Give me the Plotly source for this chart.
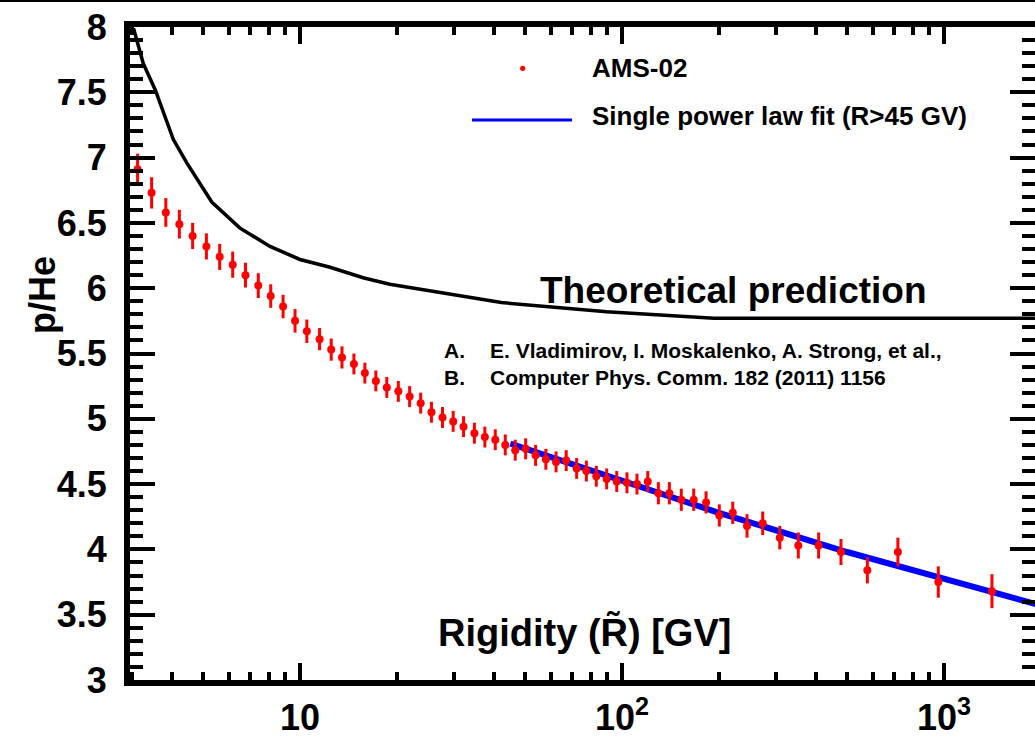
import plotly.graph_objects as go

# AMS-02 p/He ratio
rigidity = [3.13, 3.46, 3.83, 4.22, 4.64, 5.12, 5.63, 6.18, 6.77, 7.42,
            8.11, 8.86, 9.65, 10.5, 11.5, 12.5, 13.5, 14.7, 15.9, 17.2,
            18.6, 20.2, 21.9, 23.7, 25.6, 27.7, 29.9, 32.2, 34.8, 37.5,
            40.4, 43.4, 46.6, 50.2, 53.9, 58.0, 62.4, 67.1, 72.3, 77.5,
            83.2, 89.6, 96.3, 103.6, 111.3, 120.2, 129.7, 140.3, 152.8, 167.0,
            182.4, 200.5, 220.8, 244.5, 273.5, 309.0, 352.8, 408.0, 478.7, 578.0,
            719.0, 960.0, 1409.0]
p_he = [6.91, 6.73, 6.58, 6.49, 6.40, 6.32, 6.24, 6.18, 6.10, 6.02,
        5.94, 5.86, 5.75, 5.67, 5.61, 5.53, 5.47, 5.42, 5.35, 5.29,
        5.24, 5.21, 5.17, 5.12, 5.05, 5.01, 4.98, 4.94, 4.89, 4.86,
        4.84, 4.80, 4.76, 4.77, 4.72, 4.69, 4.67, 4.68, 4.62, 4.60,
        4.56, 4.54, 4.52, 4.51, 4.50, 4.52, 4.43, 4.43, 4.38, 4.38,
        4.36, 4.26, 4.28, 4.18, 4.20, 4.09, 4.03, 4.03, 3.98, 3.84,
        3.98, 3.75, 3.68]
p_he_err = [0.12, 0.12, 0.11, 0.11, 0.10, 0.10, 0.10, 0.10, 0.095, 0.095,
            0.09, 0.09, 0.09, 0.09, 0.085, 0.085, 0.085, 0.08, 0.08, 0.08,
            0.08, 0.08, 0.08, 0.08, 0.08, 0.08, 0.08, 0.08, 0.08, 0.08,
            0.08, 0.08, 0.08, 0.08, 0.08, 0.08, 0.08, 0.08, 0.08, 0.08,
            0.08, 0.08, 0.08, 0.08, 0.08, 0.08, 0.085, 0.085, 0.085, 0.085,
            0.085, 0.085, 0.085, 0.09, 0.09, 0.09, 0.10, 0.10, 0.10, 0.10,
            0.11, 0.12, 0.13]

# single power law fit (R > 45 GV)
fit_rigidity = [45, 100, 200, 500, 1000, 2000]
fit_p_he = [4.81, 4.52, 4.28, 3.98, 3.77, 3.57]

# theoretical prediction (GALPROP)
theory_rigidity = [3.04, 3.26, 3.55, 4.04, 4.45, 5.32, 6.51, 8.07, 10.0, 12.4,
                   15.7, 19.0, 42.2, 89.6, 193.0, 2000.0]
theory_p_he = [7.99, 7.72, 7.52, 7.14, 6.96, 6.66, 6.46, 6.32, 6.22, 6.16,
               6.08, 6.03, 5.89, 5.82, 5.77, 5.77]

y_ticks = [3, 3.5, 4, 4.5, 5, 5.5, 6, 6.5, 7, 7.5, 8]
x_tickvals = [10, 100, 1000]
x_ticktext = ["10", "10<sup>2</sup>", "10<sup>3</sup>"]

W, H = 1035, 738
L, R, T, B = 130, 0, 27, 58
FONT = "Liberation Sans, Arial, sans-serif"


def px(x, y):
    # pixel position -> paper coordinates (for decorations only)
    return (x - L) / (W - L - R), (H - B - y) / (H - T - B)


fig = go.Figure()

fig.add_trace(go.Scatter(
    x=theory_rigidity, y=theory_p_he, mode="lines",
    line=dict(color="black", width=3.5), showlegend=False
))
fig.add_trace(go.Scatter(
    x=fit_rigidity, y=fit_p_he, mode="lines",
    line=dict(color="#0000ff", width=6), showlegend=False
))
fig.add_trace(go.Scatter(
    x=rigidity, y=p_he, mode="markers",
    marker=dict(color="#ff0000", size=8),
    error_y=dict(type="data", array=p_he_err, color="#ff0000", thickness=3, width=0),
    showlegend=False
))

axis_common = dict(
    showline=True, linecolor="black", linewidth=6, mirror="allticks",
    ticks="inside", tickcolor="black", tickwidth=4,
    showgrid=False, zeroline=False, automargin=False,
    tickfont=dict(family=FONT, size=36, color="black", weight="bold"),
)

fig.update_xaxes(
    type="log", range=[0.472, 3.2826],
    tickvals=x_tickvals, ticktext=x_ticktext, ticklen=17,
    ticklabelstandoff=1,
    minor=dict(ticks="inside", ticklen=8, tickwidth=4, tickcolor="black",
               dtick="D1", showgrid=False),
    **axis_common
)
fig.update_yaxes(
    range=[3, 8], tickvals=y_ticks, ticktext=[f"{v:g}" for v in y_ticks],
    ticklen=25, ticklabelstandoff=10,
    minor=dict(ticks="inside", ticklen=13, tickwidth=4, tickcolor="black",
               dtick=0.1, showgrid=False),
    **axis_common
)

bold = dict(family=FONT, color="black", weight="bold")
annotations = []


def label(text, x, y, size, xanchor="left", **kw):
    xp, yp = px(x, y)
    annotations.append(dict(
        text=text, x=xp, y=yp, xref="paper", yref="paper",
        xanchor=xanchor, yanchor="middle", showarrow=False,
        font=dict(size=size, **bold), **kw
    ))


label("AMS-02", 590, 68, 26)
label("Single power law fit (R>45 GV)", 590, 116, 26)
label("Theoretical prediction", 733, 290, 37, xanchor="center")
label("A.", 442, 350, 21)
label("E. Vladimirov, I. Moskalenko, A. Strong, et al.,", 488, 350, 21)
label("B.", 442, 377, 21)
label("Computer Phys. Comm. 182 (2011) 1156", 488, 377, 21)
label("Rigidity (R\u0303) [GV]", 584, 632, 38, xanchor="center")
label("p/He", 42, 295, 36, xanchor="center", textangle=-90)

# hand-drawn legend symbols
lx0, ly = px(472, 120)
lx1, _ = px(572, 120)
cx, cy = px(522.7, 68.3)
rx = 2.6 / (W - L - R)
ry = 2.6 / (H - T - B)
top_y = px(0, 1)[1]
shapes = [
    dict(type="line", xref="paper", yref="paper", x0=lx0, x1=lx1, y0=ly, y1=ly,
         line=dict(color="#0000ff", width=3)),
    dict(type="circle", xref="paper", yref="paper",
         x0=cx - rx, x1=cx + rx, y0=cy - ry, y1=cy + ry,
         fillcolor="#ff0000", line=dict(width=0)),
    dict(type="line", xref="paper", yref="paper", x0=px(0, 0)[0], x1=1.0,
         y0=top_y, y1=top_y, line=dict(color="black", width=2)),
]

fig.update_layout(
    width=W, height=H,
    margin=dict(l=L, r=R, t=T, b=B, autoexpand=False),
    paper_bgcolor="white", plot_bgcolor="white",
    annotations=annotations, shapes=shapes,
    font=dict(family=FONT),
)

# drop the default page margin so the figure sits at the window origin
fig.write_html("out.html", config={"displayModeBar": False},
               post_script="document.body.style.margin='0';document.body.style.overflow='hidden';")
